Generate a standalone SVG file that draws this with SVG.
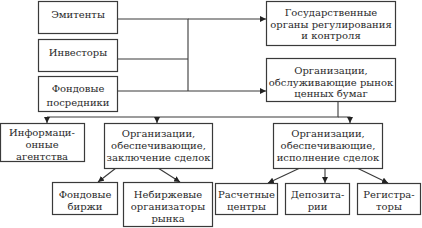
<svg xmlns="http://www.w3.org/2000/svg" width="422" height="228" viewBox="0 0 422 228">
<style>
.box{fill:#fff;stroke:#3a3a3a;stroke-width:1.2}
text{font-family:"DejaVu Serif",serif;font-size:10px;fill:#2a2a2a;text-anchor:middle}
.c{fill:none;stroke:#3a3a3a;stroke-width:1.1}
</style>
<defs>
<marker id="ah" markerUnits="userSpaceOnUse" markerWidth="7" markerHeight="6" refX="6" refY="3" orient="auto">
<path d="M0,0 L6,3 L0,6 Z" fill="#222"/>
</marker>
</defs>
<rect width="422" height="228" fill="#fff"/>
<g id="connectors">
<path class="c" d="M118,19 H188 V91"/>
<path class="c" d="M118,59 H188"/>
<path class="c" d="M118,91 H188"/>
<path class="c" d="M188,19 H266" marker-end="url(#ah)"/>
<path class="c" d="M188,91 H266" marker-end="url(#ah)"/>
<path class="c" d="M338,102 V117 H47"/>
<path class="c" d="M338,117 H350 V123" marker-end="url(#ah)"/>
<path class="c" d="M47,117 V123" marker-end="url(#ah)"/>
<path class="c" d="M157,117 V123" marker-end="url(#ah)"/>
<path class="c" d="M116,168 L98,182" marker-end="url(#ah)"/>
<path class="c" d="M158,168 L180,182" marker-end="url(#ah)"/>
<path class="c" d="M300,168 L268,183" marker-end="url(#ah)"/>
<path class="c" d="M325,168 V183" marker-end="url(#ah)"/>
<path class="c" d="M357,168 L388,183" marker-end="url(#ah)"/>
</g>
<g id="emitenty"><rect class="box" x="38.5" y="1.5" width="79" height="32"/><text x="78" y="18">Эмитенты</text></g>
<g id="investory"><rect class="box" x="38.5" y="39.5" width="79" height="32"/><text x="78" y="56">Инвесторы</text></g>
<g id="posredniki"><rect class="box" x="38.5" y="76.5" width="79" height="35"/><text x="78" y="92">Фондовые</text><text x="78" y="106">посредники</text></g>
<g id="gosorgany"><rect class="box" x="266.5" y="1.5" width="129" height="44"/><text x="331" y="16">Государственные</text><text x="331" y="28">органы регулирования</text><text x="331" y="39">и контроля</text></g>
<g id="org-rynok"><rect class="box" x="266.5" y="58.5" width="129" height="43"/><text x="331" y="74">Организации,</text><text x="331" y="86">обслуживающие рынок</text><text x="331" y="97">ценных бумаг</text></g>
<g id="info"><rect class="box" x="0.5" y="123.5" width="84" height="38"/><text x="42" y="136">Информаци-</text><text x="42" y="148">онные</text><text x="42" y="160">агентства</text></g>
<g id="org-zakl"><rect class="box" x="104.5" y="123.5" width="108" height="45"/><text x="158.5" y="137">Организации,</text><text x="158.5" y="149">обеспечивающие,</text><text x="158.5" y="161">заключение сделок</text></g>
<g id="org-isp"><rect class="box" x="273.5" y="123.5" width="109" height="45"/><text x="328" y="137">Организации,</text><text x="328" y="149">обеспечивающие,</text><text x="328" y="161">исполнение сделок</text></g>
<g id="birzhi"><rect class="box" x="52.5" y="182.5" width="65" height="32"/><text x="85" y="198">Фондовые</text><text x="85" y="210">биржи</text></g>
<g id="nebirzh"><rect class="box" x="123.5" y="182.5" width="89" height="44"/><text x="168" y="198">Небиржевые</text><text x="168" y="210">организаторы</text><text x="168" y="222">рынка</text></g>
<g id="raschet"><rect class="box" x="215.5" y="183.5" width="62" height="31"/><text x="246.5" y="198">Расчетные</text><text x="246.5" y="210">центры</text></g>
<g id="depozit"><rect class="box" x="285.5" y="183.5" width="64" height="31"/><text x="317.5" y="198">Депозита-</text><text x="317.5" y="210">рии</text></g>
<g id="registr"><rect class="box" x="357.5" y="183.5" width="63" height="31"/><text x="389" y="198">Регистра-</text><text x="389" y="210">торы</text></g>
</svg>
